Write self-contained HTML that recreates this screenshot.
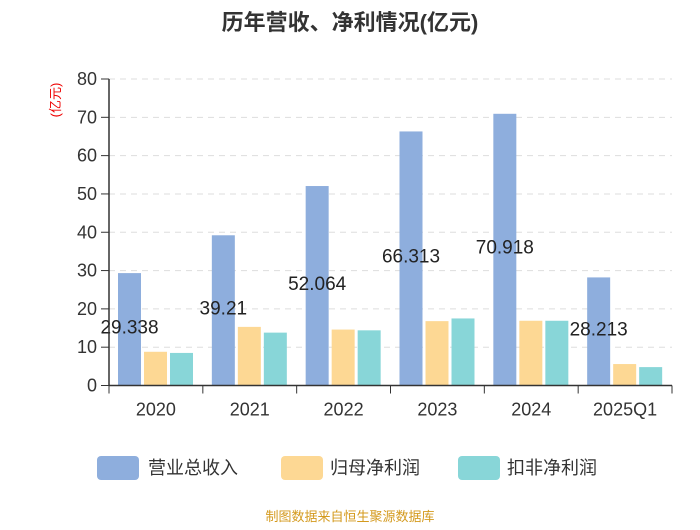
<!DOCTYPE html>
<html><head><meta charset="utf-8"><style>
body{margin:0;background:#fff;}
svg text{font-family:"Liberation Sans","Noto Sans CJK SC",sans-serif;}
</style></head><body>
<svg width="700" height="525" xmlns="http://www.w3.org/2000/svg" id="chart">
<text x="350" y="30" text-anchor="middle" font-size="22" font-weight="bold" fill="#333">历年营收、净利情况(亿元)</text>
<text transform="translate(60,100) rotate(-90)" text-anchor="middle" font-size="13" fill="#e00">(亿元)</text>
<g id="grid"></g><g id="bars"></g><g id="axes"></g>
<g>
<rect x="97" y="456" width="42" height="24" rx="4" fill="#8eaedd"/>
<text x="148" y="474" font-size="18" fill="#333">营业总收入</text>
<rect x="281" y="456" width="42" height="24" rx="4" fill="#fdd894"/>
<text x="330" y="474" font-size="18" fill="#333">归母净利润</text>
<rect x="458" y="456" width="42" height="24" rx="4" fill="#88d6d8"/>
<text x="507" y="474" font-size="18" fill="#333">扣非净利润</text>
</g>
<text x="350" y="521" text-anchor="middle" font-size="13" fill="#d49a1e">制图数据来自恒生聚源数据库</text>
</svg>
<script>
const categories=["2020","2021","2022","2023","2024","2025Q1"];
const revenue=[29.338,39.21,52.064,66.313,70.918,28.213];
const netProfit=[8.8,15.3,14.6,16.8,16.9,5.6];
const deductedProfit=[8.5,13.8,14.4,17.5,16.9,4.8];
const yTicks=[0,10,20,30,40,50,60,70,80];
const NS="http://www.w3.org/2000/svg";
const x0=109,x1=672,yTop=79,yBot=385.5,yMax=80;
const band=(x1-x0)/categories.length;
function y(v){return yBot-(v/yMax)*(yBot-yTop);}
function bx(i,k){return x0+i*band+9+k*26;}
function mk(tag,attrs,parent){const e=document.createElementNS(NS,tag);for(const k in attrs)e.setAttribute(k,attrs[k]);parent.appendChild(e);return e;}
const grid=document.getElementById('grid'),bars=document.getElementById('bars'),axes=document.getElementById('axes');
yTicks.forEach(t=>{
 if(t>0){const l=mk('line',{x1:x0,x2:x1,y1:y(t),y2:y(t),stroke:'#ddd','stroke-dasharray':'6,5'},grid);
 
 }
 const tk=mk('line',{x1:x0-8,x2:x0,y1:y(t),y2:y(t),stroke:'#333'},axes);
 
 
 const tx=mk('text',{x:x0-12,y:y(t)+6,'text-anchor':'end','font-size':'18',fill:'#333'},axes);tx.textContent=t;
 
 
});
const series=[[revenue,'#8eaedd','revenue'],[netProfit,'#fdd894','net-profit'],[deductedProfit,'#88d6d8','deducted-profit']];
categories.forEach((c,i)=>{
 series.forEach((s,k)=>{
  const v=s[0][i];
  const r=mk('rect',{x:bx(i,k),y:y(v),width:23,height:yBot-y(v),fill:s[1]},bars);
  
  
 });
 const v=revenue[i];
 const lb=mk('text',{x:bx(i,0)+11.5,y:(y(v)+yBot)/2+4,'text-anchor':'middle','font-size':'19',fill:'#222'},bars);lb.textContent=v;
 
 
 const tx=mk('text',{x:x0+i*band+band/2,y:yBot+30,'text-anchor':'middle','font-size':'18',fill:'#333'},axes);tx.textContent=c;
 
 
});
for(let i=0;i<=categories.length;i++){
 const t=mk('line',{x1:x0+i*band,x2:x0+i*band,y1:yBot,y2:yBot+8,stroke:'#333'},axes);
 
 
}
const ya=mk('line',{x1:x0,x2:x0,y1:yTop,y2:yBot,stroke:'#333','stroke-width':'1.5'},axes);


const xa=mk('line',{x1:x0,x2:x1,y1:yBot,y2:yBot,stroke:'#333','stroke-width':'1.5'},axes);


</script>
</body></html>
